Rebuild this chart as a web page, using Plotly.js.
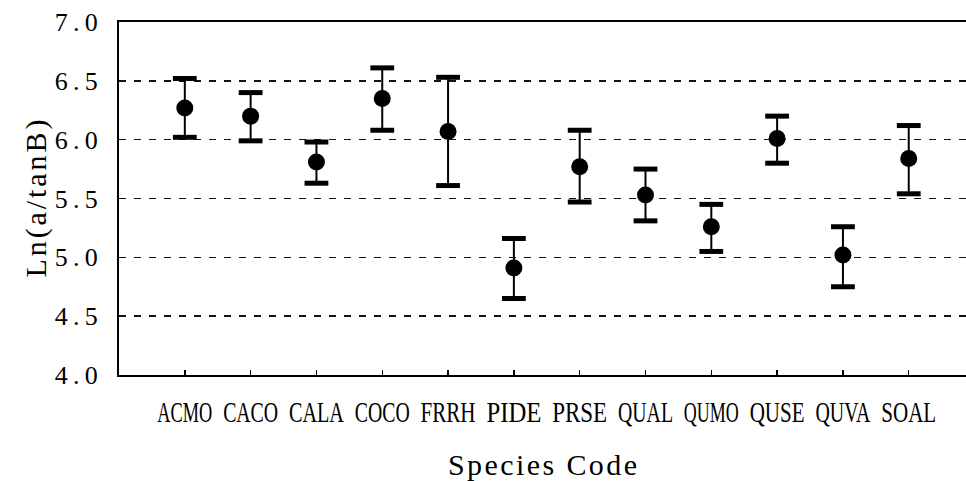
<!DOCTYPE html>
<html>
<head>
<meta charset="utf-8">
<script src="https://cdn.plot.ly/plotly-3.0.1.min.js"></script>
<style>html,body{margin:0;padding:0;background:#fff;}</style>
</head>
<body>
<div id="chart" style="width:966px;height:481px;"></div>
<script>
const species = ["ACMO","CACO","CALA","COCO","FRRH","PIDE","PRSE","QUAL","QUMO","QUSE","QUVA","SOAL"];
const meanVals = [6.27, 6.20, 5.81, 6.35, 6.07, 4.91, 5.77, 5.53, 5.26, 6.01, 5.02, 5.84];
const upperVals = [6.52, 6.40, 5.98, 6.61, 6.53, 5.16, 6.08, 5.75, 5.45, 6.20, 5.26, 6.12];
const lowerVals = [6.02, 5.99, 5.63, 6.08, 5.61, 4.65, 5.47, 5.31, 5.05, 5.80, 4.75, 5.54];
const yTickVals = [4.0, 4.5, 5.0, 5.5, 6.0, 6.5, 7.0];
const yTickText = ["4.0","4.5","5.0","5.5","6.0","6.5","7.0"];

const plusErr = upperVals.map((u, i) => u - meanVals[i]);
const minusErr = lowerVals.map((l, i) => meanVals[i] - l);

const serif = "Liberation Serif";

const traces = [
  {
    type: "scatter", mode: "markers", x: species, y: meanVals,
    marker: {symbol: "circle", size: 17, color: "#000"},
    error_y: {type: "data", symmetric: false, array: plusErr, arrayminus: minusErr,
              color: "#000", thickness: 2, width: 0},
    showlegend: false, hoverinfo: "x+y"
  },
  {
    type: "scatter", mode: "markers", x: species, y: upperVals,
    marker: {symbol: "line-ew", size: 17, color: "#000", line: {width: 5, color: "#000"}},
    showlegend: false, hoverinfo: "skip"
  },
  {
    type: "scatter", mode: "markers", x: species, y: lowerVals,
    marker: {symbol: "line-ew", size: 17, color: "#000", line: {width: 5, color: "#000"}},
    showlegend: false, hoverinfo: "skip"
  }
];

const layout = {
  width: 966, height: 481,
  margin: {l: 119, r: 0, t: 22, b: 106},
  paper_bgcolor: "#fff", plot_bgcolor: "#fff",
  font: {family: serif, color: "#000"},
  xaxis: {
    type: "category", categoryorder: "array", categoryarray: species,
    range: [-1, 11.87], automargin: false,
    showline: true, linecolor: "#000", linewidth: 2, mirror: true,
    ticks: "inside", ticklen: 5, tickwidth: 1.5, tickcolor: "#000",
    showgrid: false, zeroline: false, tickangle: 0,
    tickfont: {family: serif, size: 30, color: "#000"},
    ticklabelstandoff: 9,
    title: {text: "Species Code", font: {family: serif, size: 30, color: "#000"}, standoff: 28}
  },
  yaxis: {
    range: [4, 7], automargin: false,
    tickvals: yTickVals, ticktext: yTickText,
    showline: true, linecolor: "#000", linewidth: 2,
    ticks: "", showgrid: true, gridcolor: "#111", gridwidth: 1.5, griddash: "7px,8px",
    zeroline: false,
    tickfont: {family: serif, size: 26, color: "#000"},
    ticklabelstandoff: 14,
    title: {text: "Ln(a/tanB)", font: {family: serif, size: 30, color: "#000"}, standoff: 10}
  }
};

Plotly.newPlot("chart", traces, layout, {displayModeBar: false, staticPlot: true}).then(() => {
  const fit = (sel, len, adj) => document.querySelectorAll(sel).forEach(t => {
    t.setAttribute("textLength", len);
    t.setAttribute("lengthAdjust", adj);
  });
  // condense the category labels horizontally around their centres
  document.querySelectorAll(".xtick text").forEach(t => {
    const w = t.getComputedTextLength();
    const s = 55 / w;
    const x = parseFloat(t.getAttribute("x")) || 0;
    const prev = t.getAttribute("transform") || "";
    t.setAttribute("transform", prev + ` translate(${x},0) scale(${s},1) translate(${-x},0)`);
  });
  fit(".ytick text", 43, "spacing");
  fit(".g-xtitle text", 189, "spacing");
  fit(".g-ytitle text", 158, "spacing");
});
</script>
</body>
</html>
